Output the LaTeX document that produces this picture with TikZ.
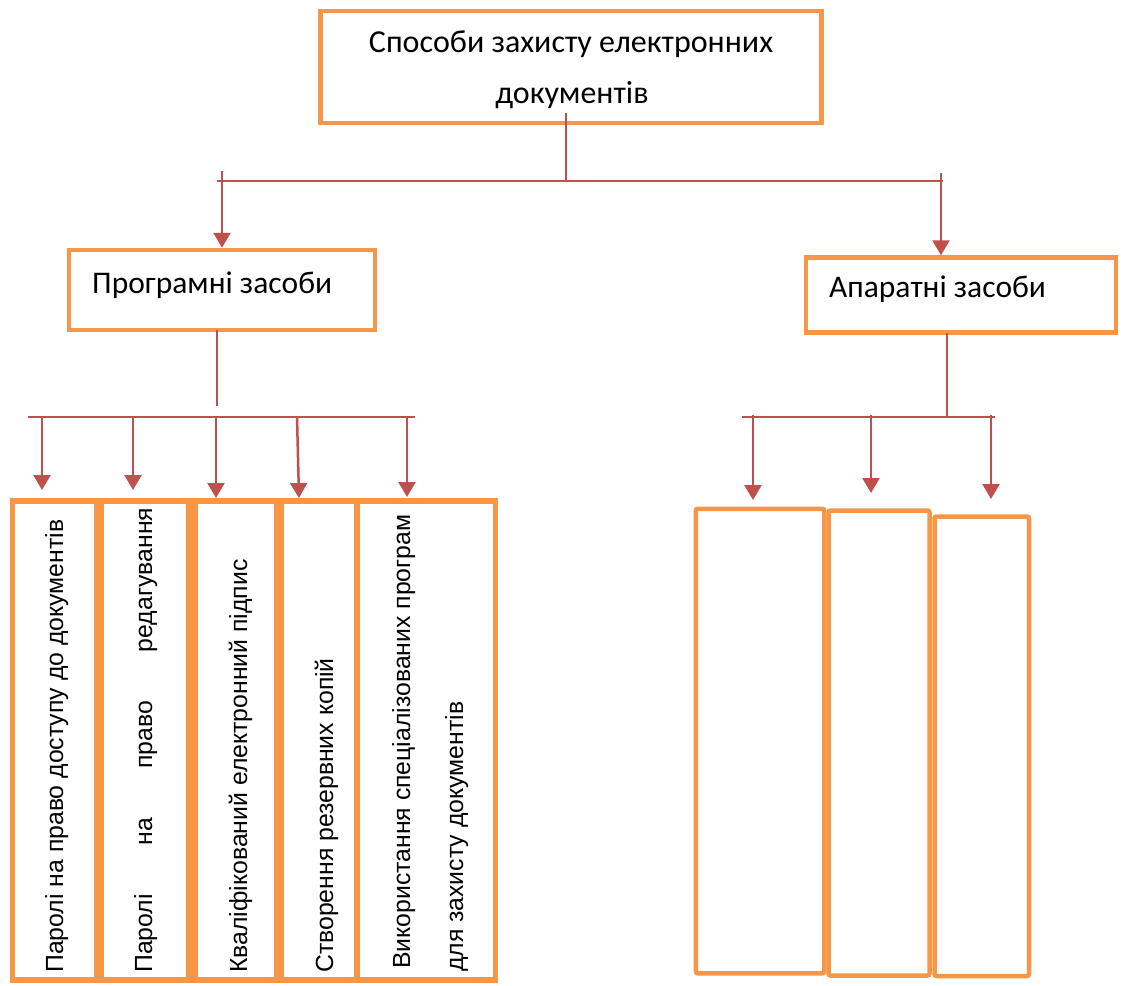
\documentclass[tikz,border=0pt]{standalone}
\usepackage{fontspec}
\setmainfont{Carlito}
\newfontfamily\arialf{Liberation Sans}
\usetikzlibrary{arrows.meta}
\definecolor{boxorange}{HTML}{F79646}
\definecolor{linered}{HTML}{C0504D}
\tikzset{
  obox/.style={draw=boxorange, line width=4.5pt, inner sep=0pt},
  tbox/.style={draw=boxorange, line width=5.5pt, inner sep=0pt},
  rbox/.style={draw=boxorange, line width=4.5pt, inner sep=0pt, rounded corners=2pt},
  conn/.style={draw=linered, line width=2pt},
  arr/.style={draw=linered, line width=2.5pt, -{Triangle[width=17pt,length=15pt]}},
  headtxt/.style={font=\fontsize{32}{36}\selectfont, inner sep=0pt, anchor=base},
  midtxt/.style={font=\fontsize{31.5}{36}\selectfont, inner sep=0pt, anchor=base west},
  vtxt/.style={font=\arialf\fontsize{24.8}{28}\selectfont, inner sep=0pt, anchor=base west, rotate=90},
}
\begin{document}
\begin{tikzpicture}[x=1pt,y=-1pt]
\useasboundingbox (0,0) rectangle (1121,985);
% top box
\node[obox, minimum width=501pt, minimum height=112pt] (top) at (571,67) {};
\node[headtxt] (title1) at (571,52) {Способи захисту електронних};
\node[headtxt] (title2) at (572,103) {документів};
% second level boxes
\node[obox, minimum width=306pt, minimum height=80pt] (prog) at (222,290) {};
\node[midtxt] (progt) at (92,293) {Програмні засоби};
\node[obox, minimum width=310pt, minimum height=75pt] (hw) at (961,295) {};
\node[midtxt] (hwt) at (829,297) {Апаратні засоби};
% bottom left boxes
\node[tbox, minimum width=84pt, minimum height=479pt] (b1) at (54.5,740.5) {};
\node[tbox, minimum width=88pt, minimum height=479pt] (b2) at (145,740.5) {};
\node[tbox, minimum width=82pt, minimum height=479pt] (b3) at (236,740.5) {};
\node[tbox, minimum width=76pt, minimum height=479pt] (b4) at (319,740.5) {};
\node[tbox, minimum width=138.5pt, minimum height=479pt] (b5) at (426.25,740.5) {};
\node[vtxt] (t1) at (63,973) {Паролі на право доступу до документів};
\node[vtxt] (t2) at (152,973) {\makebox[465pt]{Паролі\hfill на\hfill право\hfill редагування}};
\node[vtxt] (t3) at (247,973) {Кваліфікований електронний підпис};
\node[vtxt] (t4) at (333,973) {Створення резервних копій};
\node[vtxt] (t5a) at (410,969) {Використання спеціалізованих програм};
\node[vtxt] (t5b) at (463,972) {для захисту документів};
% bottom right boxes
\node[rbox, minimum width=128.5pt, minimum height=464.5pt] (r1) at (760,741) {};
\node[rbox, minimum width=101pt, minimum height=465pt] (r2) at (879,743) {};
\node[rbox, minimum width=94.5pt, minimum height=459.5pt] (r3) at (981.75,746.25) {};
% connectors: top level
\coordinate (tv) at (566,113);
\coordinate (tj) at (566,181);
\coordinate (hl) at (217,181);
\coordinate (hr) at (943,181);
\coordinate (al) at (222,171);
\coordinate (ar) at (941,173);
\path[conn] (tv) -- (tj);
\path[conn] (hl) -- (hr);
\path[arr] (al) -- (al |- prog.north);
\path[arr] (ar) -- (ar |- hw.north);
% connectors: left group
\coordinate (pv1) at (217,330);
\coordinate (pv2) at (217,406);
\coordinate (lh1) at (28,417);
\coordinate (lh2) at (415,417);
\path[conn] (pv1) -- (pv2);
\path[conn] (lh1) -- (lh2);
\coordinate (s1) at (42,416);
\coordinate (s2) at (133,416);
\coordinate (s3) at (216,416);
\coordinate (s4) at (297,416);
\coordinate (s5) at (407,416);
\coordinate (e1) at (42,490);
\coordinate (e2) at (133,490);
\coordinate (e3) at (216,498);
\coordinate (e4) at (299,498);
\coordinate (e5) at (407,497);
\path[arr] (s1) -- (e1);
\path[arr] (s2) -- (e2);
\path[arr] (s3) -- (e3);
\path[arr] (s4) -- (e4);
\path[arr] (s5) -- (e5);
% connectors: right group
\coordinate (hv1) at (947,333);
\coordinate (hv2) at (947,417);
\coordinate (rh1) at (742,417);
\coordinate (rh2) at (995,417);
\path[conn] (hv1) -- (hv2);
\path[conn] (rh1) -- (rh2);
\coordinate (u1) at (753,415);
\coordinate (u2) at (871,415);
\coordinate (u3) at (991,415);
\coordinate (v1) at (753,500);
\coordinate (v2) at (871,493);
\coordinate (v3) at (991,499);
\path[arr] (u1) -- (v1);
\path[arr] (u2) -- (v2);
\path[arr] (u3) -- (v3);
\end{tikzpicture}
\end{document}
